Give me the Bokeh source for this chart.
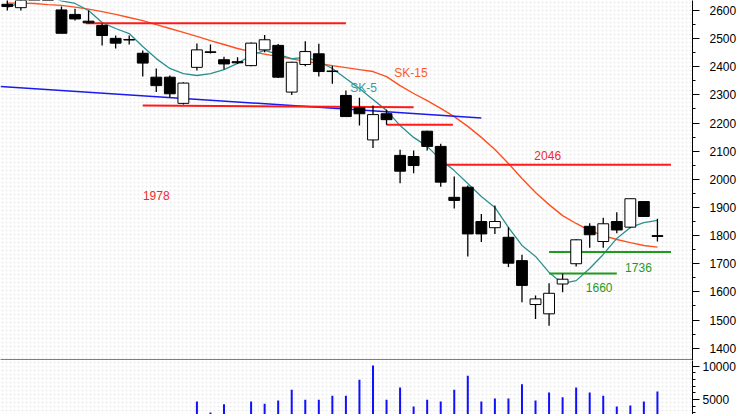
from bokeh.plotting import figure
from bokeh.models import Range1d, FixedTicker, LinearAxis, ColumnDataSource, BoxAnnotation
from bokeh.layouts import column
from bokeh.embed import file_html
from bokeh.resources import INLINE
from bokeh.core.properties import value

FONT = "Liberation Sans"

# ---------------- data ----------------
idx = list(range(49))
opens = [2622, 2610, 2655, 2690, 2602, 2586, 2562, 2547, 2501, 2497,
         2448, 2363, 2363, 2270, 2398, 2453, 2425, 2418, 2404, 2460,
         2476, 2310, 2408, 2446, 2385, 2298, 2254, 2140, 2233, 2085,
         2081, 2171, 2117, 1936, 1972, 1850, 1828, 1794, 1711, 1555,
         1522, 1628, 1700, 1833, 1779, 1850, 1830, 1921, 1800]
highs = [2640, 2660, 2700, 2700, 2614, 2606, 2600, 2554, 2511, 2511,
         2458, 2394, 2369, 2345, 2483, 2479, 2436, 2434, 2486, 2513,
         2481, 2418, 2491, 2482, 2404, 2316, 2290, 2262, 2247, 2105,
         2102, 2173, 2126, 2010, 1978, 1877, 1907, 1830, 1732, 1587,
         1631, 1664, 1787, 1844, 1863, 1883, 1931, 1921, 1860]
lows = [2600, 2600, 2640, 2645, 2519, 2564, 2555, 2476, 2465, 2479,
        2365, 2310, 2292, 2266, 2387, 2447, 2390, 2410, 2402, 2452,
        2360, 2300, 2402, 2365, 2340, 2223, 2191, 2111, 2194, 1986,
        2022, 2102, 1974, 1896, 1726, 1777, 1806, 1688, 1563, 1504,
        1480, 1599, 1690, 1757, 1757, 1808, 1826, 1868, 1779]
closes = [2614, 2650, 2690, 2650, 2519, 2570, 2556, 2511, 2484, 2495,
          2413, 2333, 2304, 2342, 2460, 2451, 2410, 2414, 2484, 2496,
          2363, 2416, 2454, 2383, 2383, 2223, 2233, 2230, 2212, 2029,
          2049, 2117, 1990, 1925, 1806, 1806, 1850, 1702, 1623, 1575,
          1595, 1645, 1785, 1803, 1842, 1820, 1931, 1868, 1797]
volumes = [1800, 2100, 1900, 2200, 2000, 1700, 1900, 2300, 2100, 1800,
           2400, 2200, 2000, 2700, 4700, 3050, 4300, 2700, 4700, 4350,
           4850, 6450, 4950, 4950, 5550, 5550, 7950, 10100, 4950, 6800,
           3950, 4950, 4700, 6450, 8550, 4700, 5150, 5150, 7300, 4850,
           6050, 5350, 6800, 6050, 5550, 3950, 4100, 4700, 6200]
sk15 = [2626, 2626, 2625, 2621, 2618, 2612, 2605, 2596, 2586, 2575,
        2564, 2550, 2536, 2522, 2508, 2493, 2479, 2465, 2454, 2445,
        2436, 2428, 2419, 2412, 2404, 2397, 2390, 2383, 2365, 2333,
        2305, 2280, 2252, 2223, 2188, 2149, 2106, 2056, 2003, 1953,
        1910, 1871, 1843, 1818, 1800, 1786, 1775, 1765, 1759]
sk5 = [2611, 2628, 2646, 2653, 2634, 2625, 2600, 2557, 2536, 2518,
       2472, 2429, 2394, 2376, 2369, 2376, 2390, 2412, 2440, 2458,
       2444, 2429, 2433, 2419, 2394, 2358, 2323, 2284, 2245, 2191,
       2149, 2117, 2070, 2031, 1985, 1939, 1900, 1829, 1765, 1726,
       1669, 1630, 1640, 1683, 1733, 1790, 1829, 1846, 1854]

# support / resistance levels (start index, end index, price)
lvl_x0 = [5.8, 10.0, 28.0, 32.0, 40.0, 40.0]
lvl_x1 = [25.0, 30.0, 32.9, 49.0, 49.0, 45.0]
lvl_y0 = [2555, 2262, 2194, 2052, 1742, 1665]
lvl_y1 = [2555, 2256, 2194, 2052, 1742, 1665]
lvl_color = ["#ff1a1a", "#ff1a1a", "#ff1a1a", "#ff1a1a", "#1e9a1e", "#1e9a1e"]

trend_x = [-0.5, 35.0]
trend_y = [2330, 2218]

ann_text = ["1978", "2046", "SK-15", "SK-5", "1736", "1660"]
ann_x = [11.0, 39.9, 29.8, 26.3, 46.6, 43.7]
ann_y = [1942, 2085, 2378, 2323, 1688, 1615]
ann_color = ["#ee2a2a", "#ee2a2a", "#ff5a1e", "#3a9a9a", "#1e9a1e", "#1e9a1e"]

price_ticks = list(range(1400, 2601, 100))
price_minor = list(range(1350, 2651, 50))
vol_ticks = [5000, 10000]
vol_minor = list(range(0, 12001, 1000))


def style_axis(ax, standoff):
    ax.major_tick_out = 7
    ax.major_tick_in = 0
    ax.minor_tick_out = 3
    ax.minor_tick_in = 0
    ax.major_label_standoff = standoff
    ax.major_label_text_font = FONT
    ax.major_label_text_font_size = "12px"
    ax.major_label_text_color = "black"
    ax.axis_line_color = "black"
    ax.major_tick_line_color = "black"
    ax.minor_tick_line_color = "black"


def dotted_bg(fig):
    fig.add_layout(BoxAnnotation(fill_alpha=0, line_alpha=0, hatch_pattern="dot",
                                 hatch_color="#dcdcdc", hatch_scale=4, hatch_weight=1,
                                 hatch_alpha=0.6, level="underlay"))


# ---------------- figures ----------------
xr = Range1d(-0.502, 50.59)

p = figure(x_range=xr, y_range=Range1d(1356.1, 2635.5),
           frame_width=692, frame_height=360,
           output_backend="svg", toolbar_location=None,
           x_axis_location=None, y_axis_location="right", min_border=0)
p.outline_line_color = None
p.xgrid.visible = False
p.ygrid.visible = False
dotted_bg(p)

sep = LinearAxis(ticker=FixedTicker(ticks=[]), major_label_text_font_size="0px",
                 major_tick_out=0, major_tick_in=0, minor_tick_out=0, minor_tick_in=0,
                 major_label_standoff=0, axis_line_color="black", axis_line_width=2)
p.add_layout(sep, "below")

for ax in p.yaxis:
    ax.ticker = FixedTicker(ticks=price_ticks, minor_ticks=price_minor)
    style_axis(ax, 10)

src = ColumnDataSource(dict(
    x=idx, o=opens, h=highs, l=lows, c=closes,
    top=[max(a, b) for a, b in zip(opens, closes)],
    bot=[min(a, b) for a, b in zip(opens, closes)],
    fill=["white" if c >= o else "black" for o, c in zip(opens, closes)],
))

# moving averages
p.line(idx, sk15, line_color="#ff5020", line_width=1.4)
p.line(idx, sk5, line_color="#2a9090", line_width=1.3)

# trend and levels
p.line(trend_x, trend_y, line_color="#1a1aee", line_width=1.5)
p.segment(x0=lvl_x0, y0=lvl_y0, x1=lvl_x1, y1=lvl_y1, line_color=lvl_color, line_width=2)

# candles
p.segment(x0="x", y0="l", x1="x", y1="h", source=src, line_color="black", line_width=1.3)
p.vbar(x="x", width=0.8, top="top", bottom="bot", source=src,
       fill_color="fill", line_color="black", line_width=1)

# annotations
p.text(x=ann_x, y=ann_y, text=ann_text, text_color=ann_color,
       text_font=value(FONT), text_font_size=value("12px"),
       text_align="center", text_baseline="middle")

# volume panel
pv = figure(x_range=xr, y_range=Range1d(2745, 10855),
            frame_width=692, frame_height=54,
            output_backend="svg", toolbar_location=None,
            x_axis_location=None, y_axis_location="right", min_border=0)
pv.outline_line_color = None
pv.xgrid.visible = False
pv.ygrid.visible = False
dotted_bg(pv)
for ax in pv.yaxis:
    ax.ticker = FixedTicker(ticks=vol_ticks, minor_ticks=vol_minor)
    style_axis(ax, 3)

pv.segment(x0=idx, y0=[0] * len(idx), x1=idx, y1=volumes, line_color="#1010ff", line_width=2)

layout = column(p, pv, spacing=0)
open("out.html", "w").write(file_html(layout, INLINE))
